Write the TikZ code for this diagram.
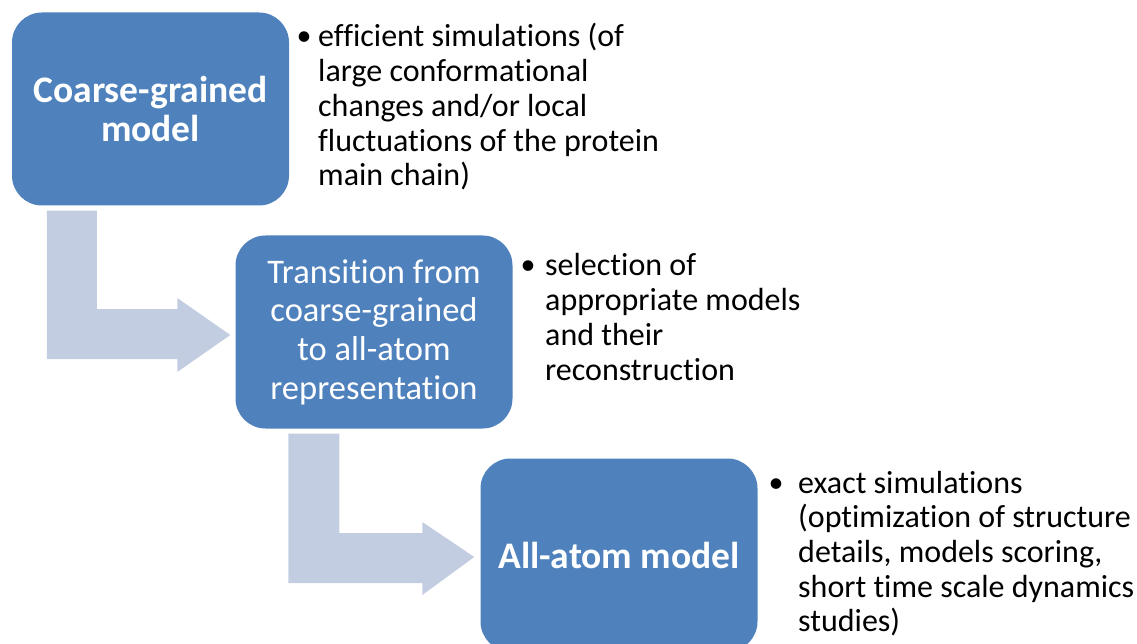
\documentclass[tikz,border=0pt]{standalone}
\usepackage{fontspec}
\setmainfont{Carlito}[Ligatures=NoCommon]
\usetikzlibrary{calc}
\definecolor{boxblue}{HTML}{4F81BD}
\definecolor{flowgray}{HTML}{C3CDE1}

% list bullet, centred #1 to the left of the text start
\newcommand{\bul}[1]{\llap{\makebox[0pt][c]{\fontsize{30}{30}\selectfont\raisebox{1pt}{•}}\hspace{#1}}}

\begin{document}
\begin{tikzpicture}[x=1pt,y=-1pt,
  stage/.style={fill=boxblue, rounded corners=30pt, minimum width=277pt,
    minimum height=193pt, text=white, align=center, inner sep=0pt},
  stagebold/.style={stage, font=\fontsize{37.5}{38.5}\selectfont\bfseries},
  stageplain/.style={stage, font=\fontsize{34.5}{38.7}\selectfont},
  note/.style={anchor=base west, inner sep=0pt, text=black,
    font=\fontsize{32}{34.7}\selectfont},
  flow/.style={fill=flowgray}]
\useasboundingbox (0,0) rectangle (1137,644);
\clip (0,0) rectangle (1137,644);

% the three stages
\node[stagebold]  (cg) at (150.5,109) {Coarse-grained\\model};
\node[stageplain] (tr) at (374,332)   {Transition from\\coarse-grained\\to all-atom\\representation};
\node[stagebold]  (aa) at (619,555)   {All-atom model};

% bent block arrows between the stages
\coordinate (s1) at ($(cg.south west)+(35,5)$);
\coordinate (t1) at ($(tr.west)+(-5,3)$);
\fill[flow] (s1) -- ++(50,0) |- ($(t1)+(-53,-26)$) -- ++(0,-11) -- (t1)
  -- ++(-53,37) -- ++(0,-13) -| (s1) -- cycle;

\coordinate (s2) at ($(tr.south west)+(53,5)$);
\coordinate (t2) at ($(aa.west)+(-6,2)$);
\fill[flow] (s2) -- ++(51,0) |- ($(t2)+(-52,-24)$) -- ++(0,-11) -- (t2)
  -- ++(-52,38) -- ++(0,-12) -| (s2) -- cycle;

% bullet notes beside each stage
\node[note] (n1) at (318,47) {\begin{tabular}[t]{@{}l@{}}
  \bul{14pt}efficient simulations (of\\
  large conformational\\
  changes and/or local\\
  fluctuations of the protein\\
  main chain)\end{tabular}};
\node[note] (n2) at (545,276) {\begin{tabular}[t]{@{}l@{}}
  \bul{17pt}selection of\\
  appropriate models\\
  and their\\
  reconstruction\end{tabular}};
\node[note] (n3) at (798,493) {\begin{tabular}[t]{@{}l@{}}
  \bul{22pt}exact simulations\\
  (optimization of structure\\
  details, models scoring,\\
  short time scale dynamics\\
  studies)\end{tabular}};
\end{tikzpicture}
\end{document}
